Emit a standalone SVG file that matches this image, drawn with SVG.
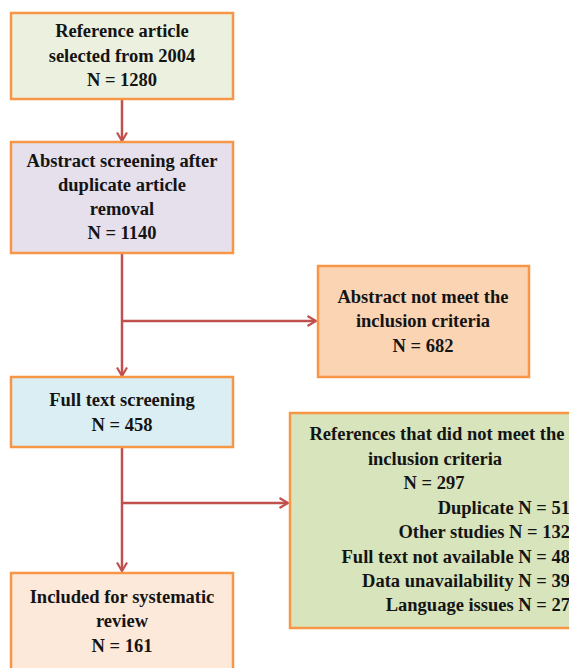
<svg xmlns="http://www.w3.org/2000/svg" width="569" height="668" viewBox="0 0 569 668">
  <style>
    .box { stroke: #F79646; stroke-width: 2.5; }
    .lbl { font-family: "Liberation Serif", "Times New Roman", serif; font-weight: bold; font-size: 18.5px; fill: #141414; text-anchor: middle; }
    .rt { text-anchor: end; }
    .conn { stroke: #C0504D; stroke-width: 2.5; fill: none; }
  </style>
  <defs>
    <marker id="arrow" viewBox="0 0 12 12" refX="10.5" refY="6" markerWidth="12" markerHeight="12" markerUnits="userSpaceOnUse" orient="auto">
      <path d="M2,1 L10.5,6 L2,11" fill="none" stroke="#C0504D" stroke-width="2.2"/>
    </marker>
  </defs>
  <rect width="569" height="668" fill="#ffffff"/>

  <g id="connectors">
    <line class="conn" x1="122" y1="99" x2="122" y2="141" marker-end="url(#arrow)"/>
    <line class="conn" x1="122" y1="253" x2="122" y2="376" marker-end="url(#arrow)"/>
    <line class="conn" x1="122" y1="321" x2="316" y2="321" marker-end="url(#arrow)"/>
    <line class="conn" x1="122" y1="447" x2="122" y2="571" marker-end="url(#arrow)"/>
    <line class="conn" x1="122" y1="503" x2="288" y2="503" marker-end="url(#arrow)"/>
  </g>

  <g id="n-reference">
    <rect class="box" x="11" y="13" width="222" height="86" fill="#EBF1DE"/>
    <text class="lbl" x="122" y="37">Reference article</text>
    <text class="lbl" x="122" y="62">selected from 2004</text>
    <text class="lbl" x="122" y="86">N = 1280</text>
  </g>

  <g id="n-abstract">
    <rect class="box" x="11" y="142" width="222" height="111" fill="#E5E0EC"/>
    <text class="lbl" x="122" y="167">Abstract screening after</text>
    <text class="lbl" x="122" y="191">duplicate article</text>
    <text class="lbl" x="122" y="215">removal</text>
    <text class="lbl" x="122" y="239">N = 1140</text>
  </g>

  <g id="n-excluded-abstract">
    <rect class="box" x="318" y="266" width="211" height="111" fill="#FBD4B4"/>
    <text class="lbl" x="423" y="303">Abstract not meet the</text>
    <text class="lbl" x="423" y="327">inclusion criteria</text>
    <text class="lbl" x="423" y="352">N = 682</text>
  </g>

  <g id="n-fulltext">
    <rect class="box" x="11" y="377" width="222" height="70" fill="#DBEEF3"/>
    <text class="lbl" x="122" y="406">Full text screening</text>
    <text class="lbl" x="122" y="431">N = 458</text>
  </g>

  <g id="n-excluded-fulltext">
    <rect class="box" x="290" y="413" width="300" height="215" fill="#D7E4BC"/>
    <text class="lbl" x="437" y="440">References that did not meet the</text>
    <text class="lbl" x="435" y="465">inclusion criteria</text>
    <text class="lbl" x="434" y="489">N = 297</text>
    <text class="lbl rt" x="570" y="514">Duplicate N = 51</text>
    <text class="lbl rt" x="570" y="538">Other studies N = 132</text>
    <text class="lbl rt" x="570" y="563">Full text not available N = 48</text>
    <text class="lbl rt" x="570" y="587">Data unavailability N = 39</text>
    <text class="lbl rt" x="570" y="611">Language issues N = 27</text>
  </g>

  <g id="n-included">
    <rect class="box" x="11" y="573" width="222" height="110" fill="#FDE9D9"/>
    <text class="lbl" x="122" y="603">Included for systematic</text>
    <text class="lbl" x="122" y="627">review</text>
    <text class="lbl" x="122" y="652">N = 161</text>
  </g>
</svg>
